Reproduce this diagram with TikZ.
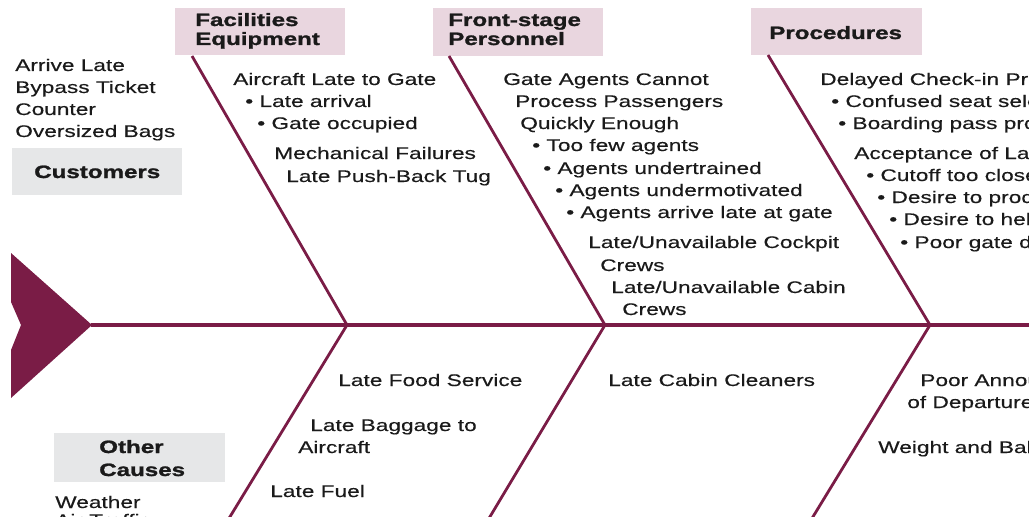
\documentclass[tikz,border=0pt]{standalone}
\usepackage{fontspec}
\setmainfont[FakeStretch=1.35, FakeBold=0.35, BoldFeatures={FakeBold=1.4}]{Liberation Sans}
\definecolor{maroon}{HTML}{7A1C46}
\definecolor{pinkbg}{HTML}{E9D6DF}
\definecolor{graybg}{HTML}{E6E7E8}
\definecolor{ink}{HTML}{1A1A1A}
\begin{document}
\begin{tikzpicture}[x=0.75pt,y=-0.75pt,
  txt/.style={anchor=base west, inner sep=0pt, font=\fontsize{12.6}{15}\selectfont, text=ink},
  ttl/.style={anchor=base west, inner sep=0pt, font=\fontsize{13.4}{15}\selectfont\bfseries, text=ink},
  pinkbox/.style={fill=pinkbg, draw=none, anchor=north west, inner sep=0pt},
  graybox/.style={fill=graybg, draw=none, anchor=north west, inner sep=0pt},
  bone/.style={draw=maroon, line width=2.1pt},
  spine/.style={draw=maroon, line width=2.3pt}]
\useasboundingbox (0,0) rectangle (1029,517);
\clip (0,0) rectangle (1029,517);

% boxes
\node[pinkbox, minimum width=170*0.75pt, minimum height=47*0.75pt] (bfac) at (175,8) {};
\node[pinkbox, minimum width=170*0.75pt, minimum height=48*0.75pt] (bfront) at (433,8) {};
\node[pinkbox, minimum width=171*0.75pt, minimum height=47*0.75pt] (bproc) at (751,8) {};
\node[graybox, minimum width=170*0.75pt, minimum height=47*0.75pt] (bcust) at (12,148) {};
\node[graybox, minimum width=171*0.75pt, minimum height=49*0.75pt] (bother) at (54,433) {};

% titles
\node[ttl] (tfac1) at (195,26) {Facilities};
\node[ttl] (tfac2) at (195,45) {Equipment};
\node[ttl] (tfront1) at (448,26) {Front-stage};
\node[ttl] (tfront2) at (448,45) {Personnel};
\node[ttl] (tproc) at (769,39) {Procedures};
\node[ttl] (tcust) at (34,178) {Customers};
\node[ttl] (toth1) at (99,453) {Other};
\node[ttl] (toth2) at (99,476) {Causes};

% spine and head
\fill[maroon] (11,253) -- (92,325) -- (11,398) -- (11,350) -- (21,325) -- (11,302) -- cycle;
\coordinate (tip) at (91,325);
\coordinate (send) at (1035,325);
\coordinate (j1) at (347,325);
\coordinate (j2) at (605,325);
\coordinate (j3) at (930,325);
\draw[spine] (tip) -- (send);

% bones
\coordinate (u1) at (192,56);
\coordinate (u2) at (449,56);
\coordinate (u3) at (768,55);
\coordinate (d1) at (228,520);
\coordinate (d2) at (488,520);
\coordinate (d3) at (811,520);
\draw[bone] (u1) -- (j1);
\draw[bone] (u2) -- (j2);
\draw[bone] (u3) -- (j3);
\draw[bone] (j1) -- (d1);
\draw[bone] (j2) -- (d2);
\draw[bone] (j3) -- (d3);

% customers
\node[txt] (c1) at (15,71) {Arrive Late};
\node[txt] (c2) at (15,93) {Bypass Ticket};
\node[txt] (c3) at (15,115) {Counter};
\node[txt] (c4) at (15,137) {Oversized Bags};

% facilities
\node[txt] (f1) at (233,85) {Aircraft Late to Gate};
\node[txt] (f2) at (245,107) {• Late arrival};
\node[txt] (f3) at (257,129) {• Gate occupied};
\node[txt] (f4) at (274,159) {Mechanical Failures};
\node[txt] (f5) at (286,182) {Late Push-Back Tug};

% front-stage
\node[txt] (p1) at (503,85) {Gate Agents Cannot};
\node[txt] (p2) at (515,107) {Process Passengers};
\node[txt] (p3) at (520,129) {Quickly Enough};
\node[txt] (p4) at (532,151) {• Too few agents};
\node[txt] (p5) at (543,174) {• Agents undertrained};
\node[txt] (p6) at (555,196) {• Agents undermotivated};
\node[txt] (p7) at (566,218) {• Agents arrive late at gate};
\node[txt] (p8) at (588,248) {Late/Unavailable Cockpit};
\node[txt] (p9) at (600,271) {Crews};
\node[txt] (p10) at (611,293) {Late/Unavailable Cabin};
\node[txt] (p11) at (622,315) {Crews};

% procedures
\node[txt] (r1) at (820,85) {Delayed Check-in Procedures};
\node[txt] (r2) at (831,107) {• Confused seat selection};
\node[txt] (r3) at (838,129) {• Boarding pass processing};
\node[txt] (r4) at (854,159) {Acceptance of Late Passengers};
\node[txt] (r5) at (866,181) {• Cutoff too close to departure};
\node[txt] (r6) at (877,203) {• Desire to produce revenue};
\node[txt] (r7) at (889,225) {• Desire to help passengers};
\node[txt] (r8) at (900,248) {• Poor gate discipline};

% lower
\node[txt] (l1) at (338,386) {Late Food Service};
\node[txt] (l2) at (310,431) {Late Baggage to};
\node[txt] (l3) at (298,453) {Aircraft};
\node[txt] (l4) at (270,497) {Late Fuel};
\node[txt] (l5) at (608,386) {Late Cabin Cleaners};
\node[txt] (l6) at (920,386) {Poor Announcement};
\node[txt] (l7) at (907,408) {of Departures};
\node[txt] (l8) at (878,453) {Weight and Balance};
\node[txt] (o1) at (55,508) {Weather};
\node[txt] (o2) at (55,526) {Air Traffic};
\end{tikzpicture}
\end{document}
